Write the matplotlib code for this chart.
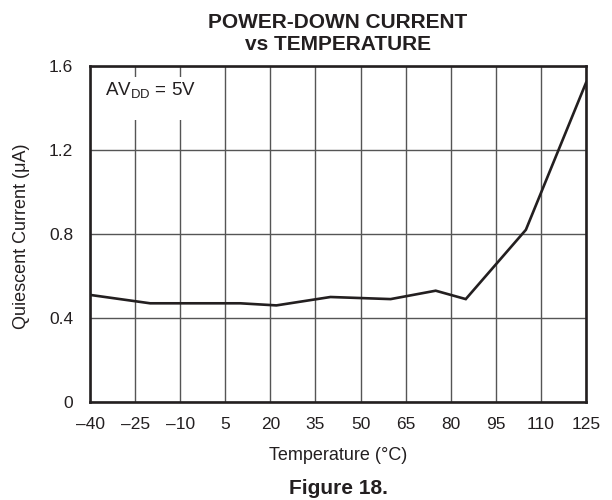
import matplotlib
matplotlib.use("Agg")
import matplotlib.pyplot as plt
from matplotlib.patches import Rectangle

plt.rcParams["font.family"] = ["Liberation Sans", "DejaVu Sans"]

# data
temperature = [-40, -20, 0, 10, 22, 40, 60, 75, 85, 105, 125]
current_ua = [0.51, 0.47, 0.47, 0.47, 0.46, 0.50, 0.49, 0.53, 0.49, 0.82, 1.52]

x_ticks = [-40, -25, -10, 5, 20, 35, 50, 65, 80, 95, 110, 125]
x_tick_labels = ["–40", "–25", "–10", "5", "20", "35", "50", "65", "80", "95", "110", "125"]
y_ticks = [0, 0.4, 0.8, 1.2, 1.6]
y_tick_labels = ["0", "0.4", "0.8", "1.2", "1.6"]

ink = "#231f20"
W, H = 612, 500

fig = plt.figure(figsize=(W / 100, H / 100), dpi=100)
ax = fig.add_axes([90 / W, 1 - 402 / H, 496 / W, 336 / H])

ax.plot(temperature, current_ua, color=ink, linewidth=1.9, zorder=4,
        solid_joinstyle="miter")

ax.set_xlim(-40, 125)
ax.set_ylim(0, 1.6)
ax.set_xticks(x_ticks)
ax.set_xticklabels(x_tick_labels)
ax.set_yticks(y_ticks)
ax.set_yticklabels(y_tick_labels)
ax.tick_params(axis="both", length=0, labelsize=12.5, colors=ink)
ax.tick_params(axis="x", pad=11)
ax.tick_params(axis="y", pad=12)
ax.grid(True, color="#555555", linewidth=1.0)
ax.set_axisbelow(True)
for s in ax.spines.values():
    s.set_linewidth(1.9)
    s.set_color(ink)
    s.set_zorder(5)

# white box behind the condition label
ax.add_patch(Rectangle((0.004, 0.839), 0.208, 0.128, transform=ax.transAxes,
                       facecolor="white", edgecolor="none", zorder=2))
ax.text(0.030, 0.926, r"AV$_{\mathregular{DD}}$ = 5V", transform=ax.transAxes,
        fontsize=13.5, color=ink, va="center", ha="left", zorder=3)

cx = 338 / W
fig.text(cx, 1 - 28 / H, "POWER-DOWN CURRENT", ha="center", va="baseline",
         fontsize=15, fontweight="bold", color=ink)
fig.text(cx, 1 - 50 / H, "vs TEMPERATURE", ha="center", va="baseline",
         fontsize=15, fontweight="bold", color=ink)
fig.text(cx, 1 - 455 / H, "Temperature (°C)", ha="center", va="center",
         fontsize=13, color=ink)
fig.text(22 / W, 1 - 236 / H, "Quiescent Current (μA)", ha="center", va="center",
         rotation=90, fontsize=13, color=ink)
fig.text(cx, 1 - 488 / H, "Figure 18.", ha="center", va="center",
         fontsize=15, fontweight="bold", color=ink)

fig.savefig("out.png", dpi=100)
